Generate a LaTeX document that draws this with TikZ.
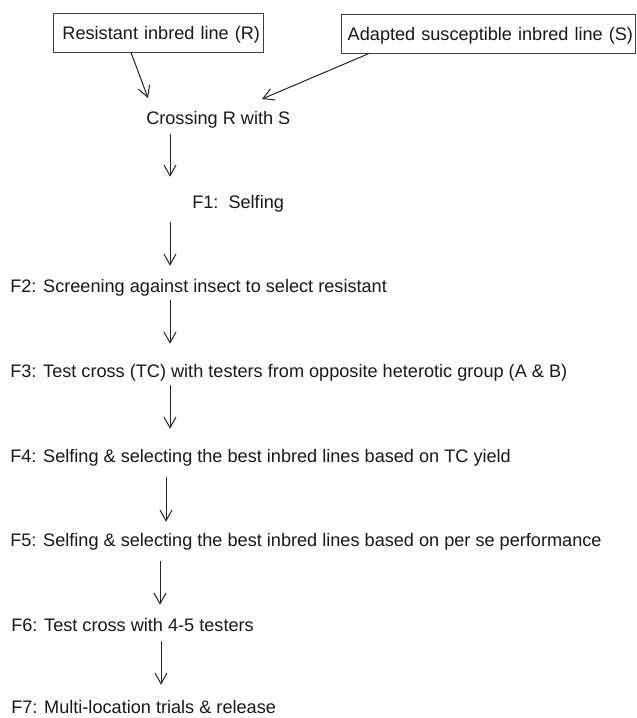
\documentclass[tikz,border=0pt]{standalone}
\usepackage{fontspec}
\setmainfont{Liberation Sans}
\usetikzlibrary{arrows.meta}
\begin{document}
\begin{tikzpicture}[x=0.75pt,y=-0.75pt,
  txt/.style={font=\fontsize{13.6pt}{16pt}\selectfont, text=black!90},
  lbl/.style={txt, anchor=base west, inner sep=0pt, text height=9.75pt, text depth=0pt},
  box/.style={txt, draw=black!75, line width=0.75pt, inner ysep=0pt, minimum height=29.25pt,
              text height=9.75pt, text depth=0pt, align=right},
  arr/.style={draw=black!85, line width=0.75pt, -{Straight Barb[length=8pt,width=9pt]}}]
\useasboundingbox (0,0) rectangle (636,718);
\fill[white] (0,0) rectangle (636,718);

\node[box, inner xsep=2.25pt, text width=153pt] (R) at (158,32.5) {Resistant inbred line (R)};
\node[box, inner xsep=1.5pt, text width=217.5pt] (S) at (488,33.5) {Adapted susceptible inbred line (S)};

\node[lbl] (cross) at (146,124) {Crossing R with S};
\node[lbl] (f1) at (192,208) {F1:~~Selfing};
\node[lbl] (f2) at (10,292) {F2: Screening against insect to select resistant};
\node[lbl] (f3) at (10,377) {F3: Test cross (TC) with testers from opposite heterotic group (A \& B)};
\node[lbl] (f4) at (10,462) {F4: Selfing \& selecting the best inbred lines based on TC yield};
\node[lbl] (f5) at (10,546) {F5: Selfing \& selecting the best inbred lines based on per se performance};
\node[lbl] (f6) at (11,631) {F6: Test cross with 4-5 testers};
\node[lbl] (f7) at (11,713) {F7: Multi-location trials \& release};

\coordinate (aR) at (131,0);
\coordinate (aS) at (369,0);
\coordinate (tR) at (148,98);
\coordinate (tS) at (262,99);
\coordinate (c1) at (170,0);
\coordinate (c5) at (166,0);
\coordinate (c6) at (160,0);
\coordinate (c7) at (161,0);

\draw[arr] (R.south -| aR) -- (tR);
\draw[arr] (S.south -| aS) -- (tS);

\draw[arr, shorten <=7.5pt, shorten >=13.5pt] (cross.south -| c1) -- (f1.north -| c1);
\draw[arr, shorten <=10.5pt, shorten >=9.75pt] (f1.south -| c1) -- (f2.north -| c1);
\draw[arr, shorten <=6pt, shorten >=15pt] (f2.south -| c1) -- (f3.north -| c1);
\draw[arr, shorten <=6pt, shorten >=15pt] (f3.south -| c1) -- (f4.north -| c1);
\draw[arr, shorten <=11.25pt, shorten >=8.25pt] (f4.south -| c5) -- (f5.north -| c5);
\draw[arr, shorten <=11.25pt, shorten >=9.75pt] (f5.south -| c6) -- (f6.north -| c6);
\draw[arr, shorten <=7.5pt, shorten >=11.25pt] (f6.south -| c7) -- (f7.north -| c7);
\end{tikzpicture}
\end{document}
